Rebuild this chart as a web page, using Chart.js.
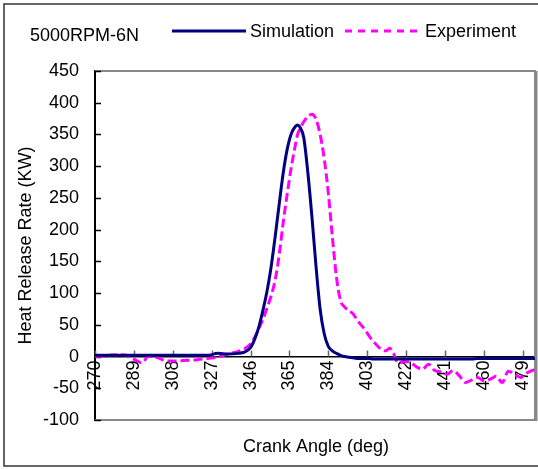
<!DOCTYPE html>
<html>
<head>
<meta charset="utf-8">
<title>Heat Release Rate - 5000RPM-6N</title>
<script src="https://cdn.jsdelivr.net/npm/chart.js@4.4.1/dist/chart.umd.min.js"></script>
<style>
    html, body { margin: 0; padding: 0; background: #fff; overflow: hidden; }
    #wrap { width: 538px; height: 469px; position: relative; }
    #hrr-chart { display: block; }
</style>
</head>
<body>
<div id="wrap"><canvas id="hrr-chart"></canvas></div>
<script>
// Chart data
const chartLabel = '5000RPM-6N';

const angles = [
    270, 275, 280, 285, 290, 293, 296, 300, 305, 310, 315, 320, 325, 330, 335, 340,
    343, 346,
    348, 350, 352, 354, 356, 358, 360, 362, 364, 366, 368,
    369,
    370, 372, 374, 376, 378, 380, 382, 384, 386, 388, 390, 392, 394, 396, 398, 400,
    402, 404, 406, 408, 410, 412, 414, 416, 418,
    421, 424, 427, 430, 433, 436, 439, 442, 445, 448, 451, 454, 457, 460, 463, 466,
    469, 472, 475, 478, 481,
    485
];

const simulation = [
    2, 2, 2, 2, 2, 2, 2, 2, 2, 2, 2, 2, 2, 5, 4, 5,
    7, 14,
    27, 46, 72, 102, 140, 188, 240, 290, 328, 352, 363,
    365,
    362, 345, 290, 220, 142, 75, 36, 16, 9, 5, 2, 0, -1, -2, -3, -3,
    -3, -3, -4, -4, -4, -4, -4, -4, -4,
    -4, -4, -4, -4, -4, -4, -4, -4, -4, -4, -4, -4, -3, -3, -3, -3,
    -3, -3, -3, -3, -3,
    -3
];

const experiment = [
    0, 1, 3, 2, -6, -10, 0, -1, -7, -7, -6, -5, -3, -1, 4, 8,
    12, 20,
    30, 44, 58, 76, 95, 120, 160, 212, 258, 300, 335,
    350,
    358, 370, 378, 382, 374, 350, 312, 258, 188, 125, 88, 78, 72, 68, 58, 50,
    42, 32, 24, 17, 11, 9, 13, 4, -10,
    -8, -9, -16, -20, -12, -22, -24, -28, -22, -30, -41, -37, -33, -38, -36, -31,
    -41, -23, -28, -33, -26,
    -20
];

const xTicks = [270, 289, 308, 327, 346, 365, 384, 403, 422, 441, 460, 479];
const yTicks = [-100, -50, 0, 50, 100, 150, 200, 250, 300, 350, 400, 450];

const FONT = "'Liberation Sans', Arial, sans-serif";
const NAVY = '#000080';
const MAGENTA = '#ff00ff';

/**
 * Build {x, y} points from the angle list
 */
function toPoints(values) {
    return angles.map((a, i) => ({ x: a, y: values[i] }));
}

/**
 * Frame, tick marks, header legend and x title
 */
const decorPlugin = {
    id: 'decor',
    beforeDatasetsDraw(chart) {
        const { ctx, chartArea: area, scales } = chart;
        const x = scales.x;
        const y = scales.y;

        ctx.save();
        // plot frame (grey) with heavier right edge
        ctx.strokeStyle = '#888';
        ctx.lineWidth = 2;
        ctx.beginPath();
        ctx.moveTo(area.left, area.top);
        ctx.lineTo(area.right, area.top);
        ctx.lineTo(area.right, area.bottom);
        ctx.lineTo(area.left, area.bottom);
        ctx.stroke();
        ctx.lineWidth = 3;
        ctx.beginPath();
        ctx.moveTo(area.right + 1, area.top);
        ctx.lineTo(area.right + 1, area.bottom + 1);
        ctx.stroke();

        // y tick marks pointing inwards
        ctx.strokeStyle = '#000';
        ctx.lineWidth = 1.5;
        yTicks.forEach(v => {
            const py = Math.round(y.getPixelForValue(v)) + 0.5;
            ctx.beginPath();
            ctx.moveTo(area.left, py);
            ctx.lineTo(area.left + 6, py);
            ctx.stroke();
        });

        // x tick marks pointing up from the zero line
        const zeroY = y.getPixelForValue(0);
        ctx.strokeStyle = '#666';
        xTicks.forEach(v => {
            const px = Math.round(x.getPixelForValue(v)) + 0.5;
            ctx.beginPath();
            ctx.moveTo(px, zeroY);
            ctx.lineTo(px, zeroY - 6);
            ctx.stroke();
        });
        ctx.restore();
    },
    afterDraw(chart) {
        const { ctx } = chart;
        const ds = chart.data.datasets;

        ctx.save();
        // outer border
        ctx.strokeStyle = '#333';
        ctx.lineWidth = 1.5;
        ctx.strokeRect(4, 4, 560, 462);

        ctx.fillStyle = '#000';
        ctx.font = '18px ' + FONT;
        ctx.textBaseline = 'middle';
        ctx.textAlign = 'left';
        ctx.fillText(chartLabel, 30, 36);

        // legend: simulation
        ctx.strokeStyle = ds[0].borderColor;
        ctx.lineWidth = 3;
        ctx.beginPath();
        ctx.moveTo(172, 31);
        ctx.lineTo(246, 31);
        ctx.stroke();
        ctx.fillText(ds[0].label, 250, 32);

        // legend: experiment
        ctx.strokeStyle = ds[1].borderColor;
        ctx.setLineDash([7, 6]);
        ctx.beginPath();
        ctx.moveTo(345, 31);
        ctx.lineTo(423, 31);
        ctx.stroke();
        ctx.setLineDash([]);
        ctx.fillText(ds[1].label, 425, 32);

        // x axis title
        ctx.textAlign = 'center';
        ctx.fillText('Crank Angle (deg)', 316, 447);
        ctx.restore();
    }
};

function initChart() {
    const ctx = document.getElementById('hrr-chart').getContext('2d');
    return new Chart(ctx, {
        type: 'line',
        data: {
            datasets: [{
                label: 'Simulation',
                data: toPoints(simulation),
                borderColor: NAVY,
                borderWidth: 3,
                pointRadius: 0,
                cubicInterpolationMode: 'monotone',
                fill: false
            }, {
                label: 'Experiment',
                data: toPoints(experiment),
                borderColor: MAGENTA,
                borderWidth: 3,
                borderDash: [9, 4],
                pointRadius: 0,
                cubicInterpolationMode: 'monotone',
                fill: false
            }]
        },
        options: {
            responsive: true,
            maintainAspectRatio: false,
            animation: false,
            layout: {
                autoPadding: false,
                padding: { left: 0, top: 71, right: 3, bottom: 49 }
            },
            plugins: {
                legend: { display: false },
                tooltip: { enabled: false }
            },
            scales: {
                x: {
                    type: 'linear',
                    min: 270,
                    max: 485,
                    position: { y: 0 },
                    grid: { display: false, drawTicks: false },
                    border: { display: true, color: '#000', width: 1.5 },
                    ticks: {
                        autoSkip: false,
                        minRotation: 90,
                        maxRotation: 90,
                        padding: 4,
                        color: '#000',
                        font: { family: FONT, size: 18 }
                    },
                    afterBuildTicks: scale => {
                        scale.ticks = xTicks.map(v => ({ value: v }));
                    },
                    // no side padding for the rotated labels
                    afterFit: scale => {
                        scale.paddingLeft = 0;
                        scale.paddingRight = 0;
                    }
                },
                y: {
                    type: 'linear',
                    min: -100,
                    max: 450,
                    position: 'left',
                    grid: { drawOnChartArea: false, drawTicks: false },
                    border: { display: true, color: '#000', width: 2 },
                    ticks: {
                        stepSize: 50,
                        padding: 16,
                        color: '#000',
                        font: { family: FONT, size: 18 }
                    },
                    afterBuildTicks: scale => {
                        scale.ticks = yTicks.map(v => ({ value: v }));
                    },
                    afterFit: scale => {
                        scale.width = 95;
                        scale.paddingTop = 0;
                        scale.paddingBottom = 0;
                    },
                    title: {
                        display: true,
                        text: 'Heat Release Rate (KW)',
                        color: '#000',
                        font: { family: FONT, size: 18 },
                        padding: { top: 15, bottom: 0 }
                    }
                }
            }
        },
        plugins: [decorPlugin]
    });
}

document.addEventListener('DOMContentLoaded', function() {
    initChart();
});
</script>
</body>
</html>
